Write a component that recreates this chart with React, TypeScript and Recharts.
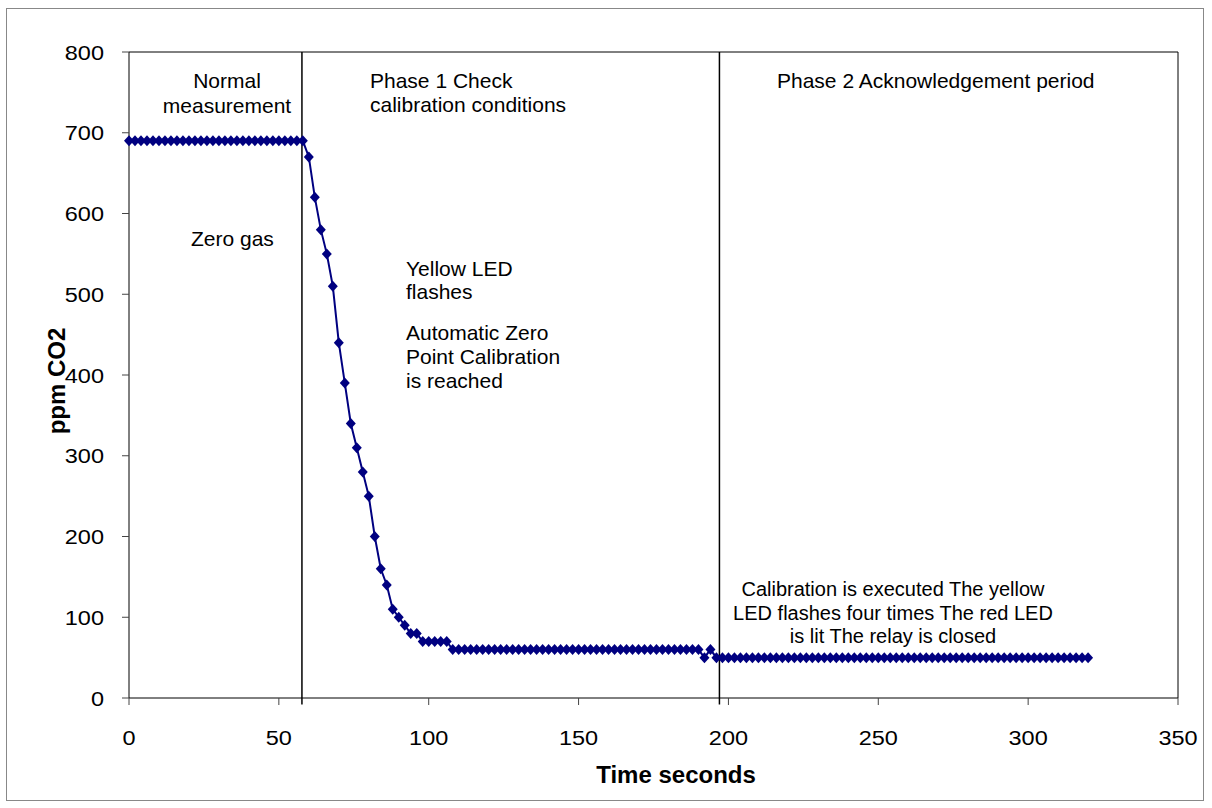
import React from 'react';
import { LineChart, Line, XAxis, YAxis, ReferenceLine } from 'recharts';

// sample times (seconds) and readings (ppm CO2)
const timeSec = [
  0, 2, 4, 6, 8, 10, 12, 14, 16, 18, 20, 22, 24, 26, 28, 30, 32, 34, 36, 38,
  40, 42, 44, 46, 48, 50, 52, 54, 56, 58, 60, 62, 64, 66, 68, 70, 72, 74, 76, 78,
  80, 82, 84, 86, 88, 90, 92, 94, 96, 98, 100, 102, 104, 106, 108, 110, 112, 114, 116, 118,
  120, 122, 124, 126, 128, 130, 132, 134, 136, 138, 140, 142, 144, 146, 148, 150, 152, 154, 156, 158,
  160, 162, 164, 166, 168, 170, 172, 174, 176, 178, 180, 182, 184, 186, 188, 190, 192, 194, 196, 198,
  200, 202, 204, 206, 208, 210, 212, 214, 216, 218, 220, 222, 224, 226, 228, 230, 232, 234, 236, 238,
  240, 242, 244, 246, 248, 250, 252, 254, 256, 258, 260, 262, 264, 266, 268, 270, 272, 274, 276, 278,
  280, 282, 284, 286, 288, 290, 292, 294, 296, 298, 300, 302, 304, 306, 308, 310, 312, 314, 316, 318,
  320,
];

const ppmCO2 = [
  690, 690, 690, 690, 690, 690, 690, 690, 690, 690, 690, 690, 690, 690, 690, 690, 690, 690, 690, 690,
  690, 690, 690, 690, 690, 690, 690, 690, 690, 690, 670, 620, 580, 550, 510, 440, 390, 340, 310, 280,
  250, 200, 160, 140, 110, 100, 90, 80, 80, 70, 70, 70, 70, 70, 60, 60, 60, 60, 60, 60,
  60, 60, 60, 60, 60, 60, 60, 60, 60, 60, 60, 60, 60, 60, 60, 60, 60, 60, 60, 60,
  60, 60, 60, 60, 60, 60, 60, 60, 60, 60, 60, 60, 60, 60, 60, 60, 50, 60, 50, 50,
  50, 50, 50, 50, 50, 50, 50, 50, 50, 50, 50, 50, 50, 50, 50, 50, 50, 50, 50, 50,
  50, 50, 50, 50, 50, 50, 50, 50, 50, 50, 50, 50, 50, 50, 50, 50, 50, 50, 50, 50,
  50, 50, 50, 50, 50, 50, 50, 50, 50, 50, 50, 50, 50, 50, 50, 50, 50, 50, 50, 50,
  50,
];

const xTicks = [0, 50, 100, 150, 200, 250, 300, 350];
const yTicks = [0, 100, 200, 300, 400, 500, 600, 700, 800];

// phase boundaries (seconds)
const phaseStart = 57.7;
const phase2Start = 197;

const data = timeSec.map((t, i) => ({ t, ppm: ppmCO2[i] }));

const FONT = 'Liberation Sans, Arial, sans-serif';
const NAVY = '#000080';

const renderDiamond = (props: any) => {
  const { cx, cy, index } = props;
  if (cx == null || cy == null) return <g key={`d-${index}`} />;
  return (
    <path
      key={`d-${index}`}
      d={`M${cx},${cy - 5.5} L${cx + 5},${cy} L${cx},${cy + 5.5} L${cx - 5},${cy} Z`}
      fill={NAVY}
      stroke="none"
    />
  );
};

// the original's tick numbers are a little wider than they are tall
const XTick = ({ x, y, payload }: any) => (
  <g transform={`translate(${x},${y}) scale(1.12,1)`}>
    <text x={0} y={0} dy="0.71em" textAnchor="middle" fontFamily={FONT} fontSize={21} fill="#000">
      {payload.value}
    </text>
  </g>
);

const YTick = ({ x, y, payload }: any) => (
  <g transform={`translate(${x},${y}) scale(1.12,1)`}>
    <text x={0} y={0} dy="0.36em" textAnchor="end" fontFamily={FONT} fontSize={21} fill="#000">
      {payload.value}
    </text>
  </g>
);

const Note = ({ x, y, lines, anchor = 'start', gap = 24, size = 21 }: any) => (
  <text x={x} y={y} fontFamily={FONT} fontSize={size} fill="#000" textAnchor={anchor}>
    {lines.map((l: string, i: number) => (
      <tspan key={i} x={x} dy={i === 0 ? 0 : gap}>
        {l}
      </tspan>
    ))}
  </text>
);

export default function App() {
  return (
    <div style={{ position: 'absolute', left: 0, top: 0, width: 1212, height: 808, background: '#fff' }}>
      <div
        style={{
          position: 'absolute',
          left: 6,
          top: 8,
          width: 1198,
          height: 793,
          boxSizing: 'border-box',
          border: '1.5px solid #888',
        }}
      />
      <div style={{ position: 'absolute', left: 0, top: 0 }}>
        <LineChart width={1212} height={808} data={data} margin={{ top: 52, right: 34, left: 0, bottom: 0 }}>
          <XAxis
            dataKey="t"
            type="number"
            domain={[0, 350]}
            ticks={xTicks}
            tick={<XTick />}
            tickSize={7}
            tickMargin={25}
            height={110}
            stroke="#000"
            tickLine={{ stroke: '#444' }}
            interval={0}
          />
          <YAxis
            type="number"
            domain={[0, 800]}
            ticks={yTicks}
            tick={<YTick />}
            tickSize={7}
            tickMargin={18}
            width={129}
            stroke="#000"
            tickLine={{ stroke: '#444' }}
            interval={0}
          />
          <ReferenceLine y={800} stroke="#000" strokeWidth={1} />
          <ReferenceLine x={350} stroke="#000" strokeWidth={1} />
          <ReferenceLine
            segment={[{ x: phaseStart, y: -8 }, { x: phaseStart, y: 800 }]}
            stroke="#000"
            strokeWidth={1.5}
            ifOverflow="visible"
          />
          <ReferenceLine
            segment={[{ x: phase2Start, y: -8 }, { x: phase2Start, y: 800 }]}
            stroke="#000"
            strokeWidth={1.5}
            ifOverflow="visible"
          />
          <Line
            type="linear"
            dataKey="ppm"
            stroke={NAVY}
            strokeWidth={2}
            dot={renderDiamond}
            activeDot={false}
            isAnimationActive={false}
          />
        </LineChart>
      </div>
      <svg
        width={1212}
        height={808}
        style={{ position: 'absolute', left: 0, top: 0, pointerEvents: 'none' }}
      >
        <Note x={227} y={88} lines={['Normal', 'measurement']} anchor="middle" gap={25} />
        <Note x={370} y={88} lines={['Phase 1 Check', 'calibration conditions']} />
        <Note x={777} y={88} lines={['Phase 2 Acknowledgement period']} />
        <Note x={191} y={246} lines={['Zero gas']} />
        <Note x={406} y={276} lines={['Yellow LED', 'flashes']} gap={23} />
        <Note x={406} y={340} lines={['Automatic Zero', 'Point Calibration', 'is reached']} />
        <Note
          x={893}
          y={596}
          anchor="middle"
          size={20}
          gap={23.5}
          lines={['Calibration is executed The yellow', 'LED flashes four times The red LED', 'is lit The relay is closed']}
        />
        <text x={676} y={783} textAnchor="middle" fontFamily={FONT} fontSize={24} fontWeight="bold" fill="#000">
          Time seconds
        </text>
        <text
          transform="translate(56,381) rotate(-90)"
          textAnchor="middle"
          dominantBaseline="central"
          fontFamily={FONT}
          fontSize={24}
          fontWeight="bold"
          fill="#000"
        >
          ppm CO2
        </text>
      </svg>
    </div>
  );
}
